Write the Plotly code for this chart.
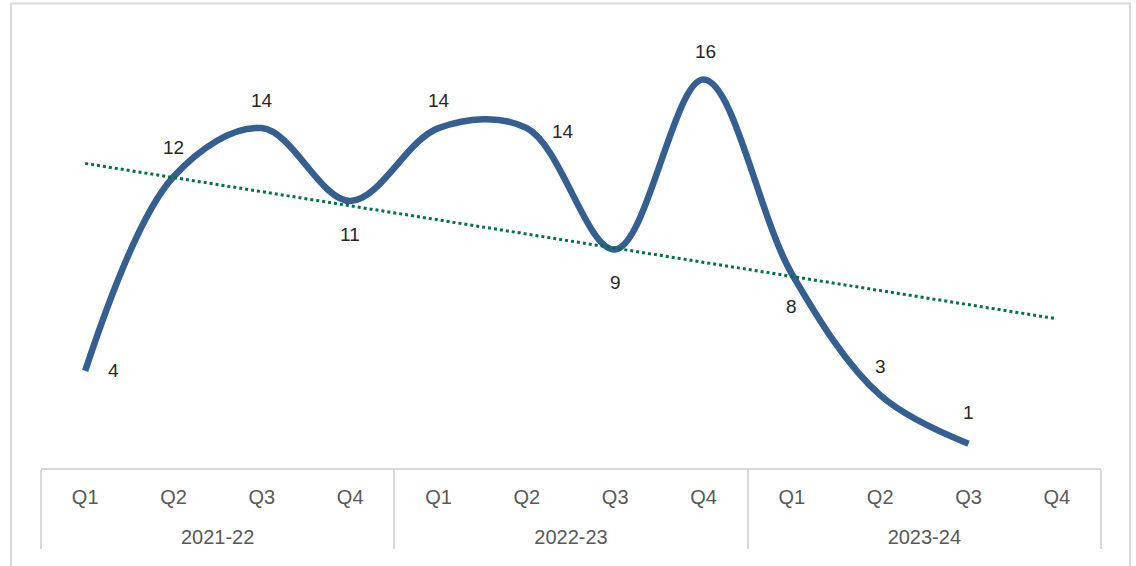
import plotly.graph_objects as go
import numpy as np

years = ["2021-22"] * 4 + ["2022-23"] * 4 + ["2023-24"] * 4
quarters = ["Q1", "Q2", "Q3", "Q4"] * 3
values = [4, 12, 14, 11, 14, 14, 9, 16, 8, 3, 1]

# label offsets in pixels (style only)
label_shift = [(28, 0), (0, 29), (0, 28), (0, -34), (0, 28), (36, -3),
               (0, -33), (2, 28), (0, -33), (0, 29), (0, 31)]

n = len(values)
idx = np.arange(n)
slope, intercept = np.polyfit(idx, values, 1)
trend = slope * np.arange(len(quarters)) + intercept

# quarter labels padded with an empty second line to space out the year row
q_text = [q + "<br>&nbsp;" for q in quarters]

fig = go.Figure()
fig.add_trace(go.Scatter(
    x=[years[:n], q_text[:n]], y=values, mode="lines",
    line=dict(color="#355f91", width=6.5, shape="spline", smoothing=1),
    hoverinfo="skip", showlegend=False))
fig.add_trace(go.Scatter(
    x=[years, q_text], y=trend, mode="lines",
    line=dict(color="#00704a", width=3, dash="dot"),
    hoverinfo="skip", showlegend=False))

for i, v in enumerate(values):
    dx, dy = label_shift[i]
    fig.add_annotation(x=i, y=v, text=str(v), showarrow=False,
                       xshift=dx, yshift=dy,
                       font=dict(size=19, color="#262626"))

fig.add_shape(type="rect", xref="paper", yref="paper",
              x0=(11 - 41) / 1060, x1=(1130 - 41) / 1060,
              y0=-0.4, y1=(468 - 4) / 436.5,
              line=dict(color="#d9d9d9", width=2), layer="below")

fig.update_layout(
    width=1136, height=566,
    margin=dict(l=41, r=35, t=31, b=98),
    plot_bgcolor="white", paper_bgcolor="white",
    font=dict(family="Liberation Sans, Arial, sans-serif", size=20, color="#595959"),
    xaxis=dict(type="multicategory", range=[-0.5, 11.5], showline=True,
               linecolor="#d9d9d9", linewidth=2, showgrid=False, ticks="",
               showdividers=True, dividercolor="#d9d9d9", dividerwidth=2,
               ticklabelstandoff=10,
               tickfont=dict(size=20, color="#595959")),
    yaxis=dict(range=[0, 18], visible=False, showgrid=False, zeroline=False),
)

fig.write_html("out.html", config={"displayModeBar": False},
               post_script="document.body.style.margin='0';")
